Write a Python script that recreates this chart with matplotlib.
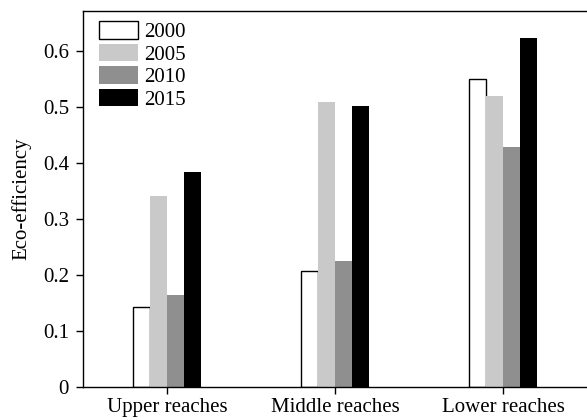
import matplotlib
matplotlib.use("Agg")
import matplotlib.pyplot as plt
import numpy as np

# Eco-efficiency by river section and year
regions = ["Upper reaches", "Middle reaches", "Lower reaches"]
years = ["2000", "2005", "2010", "2015"]
eff_2000 = [0.142, 0.207, 0.550]
eff_2005 = [0.341, 0.509, 0.520]
eff_2010 = [0.164, 0.225, 0.429]
eff_2015 = [0.383, 0.502, 0.623]
yticks = [0, 0.1, 0.2, 0.3, 0.4, 0.5, 0.6]
ytick_labels = ["0", "0.1", "0.2", "0.3", "0.4", "0.5", "0.6"]

series = [eff_2000, eff_2005, eff_2010, eff_2015]
fills = ["white", "#c9c9c9", "#8f8f8f", "black"]
edges = ["black", "none", "none", "none"]

plt.rcParams["font.family"] = ["Liberation Serif", "DejaVu Serif"]
plt.rcParams["font.size"] = 15

fig = plt.figure(figsize=(5.87, 4.20), dpi=100)
ax = fig.add_axes([83 / 587, 1 - 387 / 420, 1 - 83 / 587, (387 - 11) / 420])

x = np.arange(len(regions))
width = 0.1
for i, (vals, fc, ec) in enumerate(zip(series, fills, edges)):
    ax.bar(x + (i - 1.5) * width, vals, width, color=fc, edgecolor=ec,
           linewidth=1.0, label=years[i])

ax.set_xlim(-0.5, 2.5)
ax.set_ylim(0, 0.671)
ax.set_xticks(x)
ax.set_xticklabels(regions)
ax.set_yticks(yticks)
ax.set_yticklabels(ytick_labels)
ax.set_ylabel("Eco-efficiency", labelpad=8)

ax.spines["right"].set_visible(False)
for s in ("left", "bottom", "top"):
    ax.spines[s].set_linewidth(1.0)
ax.tick_params(axis="both", direction="out", length=5, width=1.0)
ax.tick_params(axis="y", pad=5)
ax.tick_params(axis="x", pad=3)

ax.legend(loc="upper left", bbox_to_anchor=(16 / 504, 1 - 10 / 376),
          frameon=False, borderpad=0, borderaxespad=0,
          handlelength=1.87, handleheight=0.92, handletextpad=0.3,
          labelspacing=0.08)

fig.savefig("out.png", dpi=100)
